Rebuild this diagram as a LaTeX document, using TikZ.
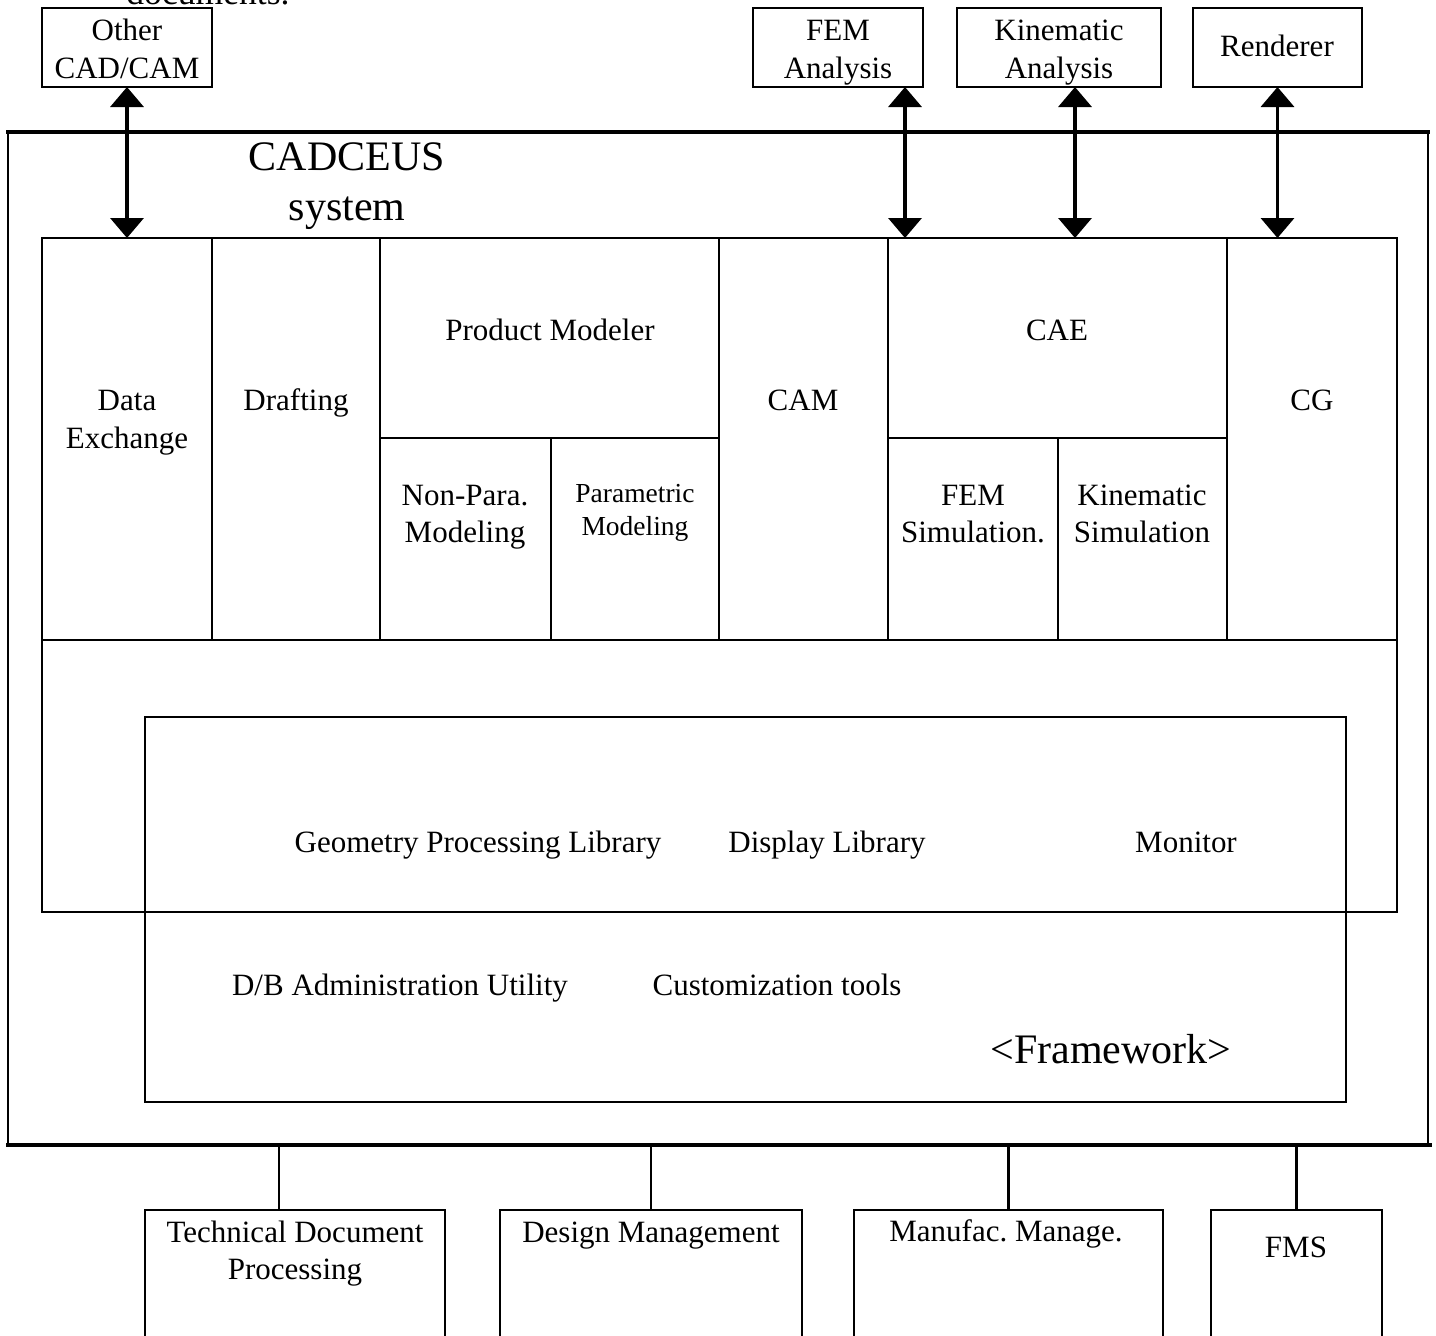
\documentclass[tikz,border=0pt]{standalone}
\usepackage{fontspec}
\setmainfont{Liberation Serif}
\usetikzlibrary{arrows.meta,fit}
\begin{document}
\begin{tikzpicture}[x=0.5pt,y=-0.5pt,
  box/.style={draw, line width=1pt, inner sep=0pt, outer sep=0pt},
  frame/.style={inner sep=0pt, outer sep=0pt},
  txt/.style={anchor=base, inner sep=0pt, font=\fontsize{15.5}{19}\selectfont},
  txtsmall/.style={anchor=base, inner sep=0pt, font=\fontsize{13.75}{17}\selectfont},
  txtbig/.style={anchor=base, inner sep=0pt, font=\fontsize{21}{25}\selectfont},
  link/.style={line width=1.8pt, {Triangle[width=16.5pt,length=10pt]}-{Triangle[width=16.5pt,length=10pt]}},
  conn/.style={line width=1.2pt},
  side/.style={line width=1pt},
  edge/.style={line width=1.6pt}]
\useasboundingbox (0,0) rectangle (1436,1335);
\clip (0,0) rectangle (1436,1335);

% cut-off text at top
\node[txt, font=\fontsize{17.8}{21}\selectfont] (doc) at (208,4) {documents.};

% external boxes (top)
\node[box, fit={(42,8) (212,87)}] (oc) {};
\node[txt] (oct1) at (127,40) {Other};
\node[txt] (oct2) at (127,78) {CAD/CAM};
\node[box, fit={(753,8) (923,87)}] (fema) {};
\node[txt] (femt1) at (838,40) {FEM};
\node[txt] (femt2) at (838,78) {Analysis};
\node[box, fit={(957,8) (1161,87)}] (kina) {};
\node[txt] (kint1) at (1059,40) {Kinematic};
\node[txt] (kint2) at (1059,78) {Analysis};
\node[box, fit={(1193,8) (1362,87)}] (rend) {};
\node[txt] (rendt) at (1277,56) {Renderer};

% outer system frame
\node[frame, fit={(8,132) (1428,1145)}] (sys) {};
\draw[edge] ([xshift=-1pt]sys.north west) -- ([xshift=1pt]sys.north east);
\draw[edge] ([xshift=-1pt]sys.south west) -- ([xshift=2pt]sys.south east);
\draw[side] (sys.north west) -- (sys.south west);
\draw[side] (sys.north east) -- (sys.south east);
\node[txtbig] (cad1) at (347,170) {CADCEUS};
\node[txtbig] (cad2) at (347,220) {system};

% application layer
\node[box, fit={(42,238) (1397,912)}] (lib) {};
\node[box, fit={(42,238) (212,640)}] (dx) {};
\node[txt] (dxt1) at (127,410) {Data};
\node[txt] (dxt2) at (127,448) {Exchange};
\node[box, fit={(212,238) (380,640)}] (dr) {};
\node[txt] (drt) at (296,410) {Drafting};
\node[box, fit={(380,238) (719,438)}] (pm) {};
\node[txt] (pmt) at (550,340) {Product Modeler};
\node[box, fit={(380,438) (551,640)}] (np) {};
\node[txt] (npt1) at (465,505) {Non-Para.};
\node[txt] (npt2) at (465,542) {Modeling};
\node[box, fit={(551,438) (719,640)}] (pp) {};
\node[txtsmall] (ppt1) at (635,502) {Parametric};
\node[txtsmall] (ppt2) at (635,535) {Modeling};
\node[box, fit={(719,238) (888,640)}] (cam) {};
\node[txt] (camt) at (803,410) {CAM};
\node[box, fit={(888,238) (1227,438)}] (cae) {};
\node[txt] (caet) at (1057,340) {CAE};
\node[box, fit={(888,438) (1058,640)}] (fs) {};
\node[txt] (fst1) at (973,505) {FEM};
\node[txt] (fst2) at (973,542) {Simulation.};
\node[box, fit={(1058,438) (1227,640)}] (ks) {};
\node[txt] (kst1) at (1142,505) {Kinematic};
\node[txt] (kst2) at (1142,542) {Simulation};
\node[box, fit={(1227,238) (1397,640)}] (cg) {};
\node[txt] (cgt) at (1312,410) {CG};

% framework
\node[box, fit={(145,717) (1346,1102)}] (fw) {};
\node[txt] (geo) at (478,852) {Geometry Processing Library};
\node[txt] (disp) at (827,852) {Display Library};
\node[txt] (mon) at (1186,852) {Monitor};
\node[txt] (dba) at (400,995) {D/B Administration Utility};
\node[txt] (cust) at (777,995) {Customization tools};
\node[txtbig] (fwt) at (1111,1063) {<Framework>};

% arrows to external systems
\coordinate (fx) at (905,0);
\coordinate (kx) at (1075,0);
\draw[link] (oc.south) -- (dx.north);
\draw[link] (fema.south -| fx) -- (cae.north -| fx);
\draw[link] (kina.south -| kx) -- (cae.north -| kx);
\draw[link] (rend.south) -- (cg.north -| rend.south);

% bottom boxes
\node[box, fit={(145,1210) (445,1360)}] (tdp) {};
\node[txt] (tdpt1) at (295,1242) {Technical Document};
\node[txt] (tdpt2) at (295,1279) {Processing};
\node[box, fit={(500,1210) (802,1360)}] (dm) {};
\node[txt] (dmt) at (651,1242) {Design Management};
\node[box, fit={(854,1210) (1163,1360)}] (mm) {};
\node[txt] (mmt) at (1006,1241) {Manufac.\ Manage.};
\node[box, fit={(1211,1210) (1382,1360)}] (fms) {};
\node[txt] (fmst) at (1296,1257) {FMS};

\coordinate (tx) at (279,0);
\draw[conn] (sys.south -| tx) -- (tdp.north -| tx);
\draw[conn] (sys.south -| dm.north) -- (dm.north);
\draw[conn] (sys.south -| mm.north) -- (mm.north);
\draw[conn] (sys.south -| fms.north) -- (fms.north);
\end{tikzpicture}
\end{document}
